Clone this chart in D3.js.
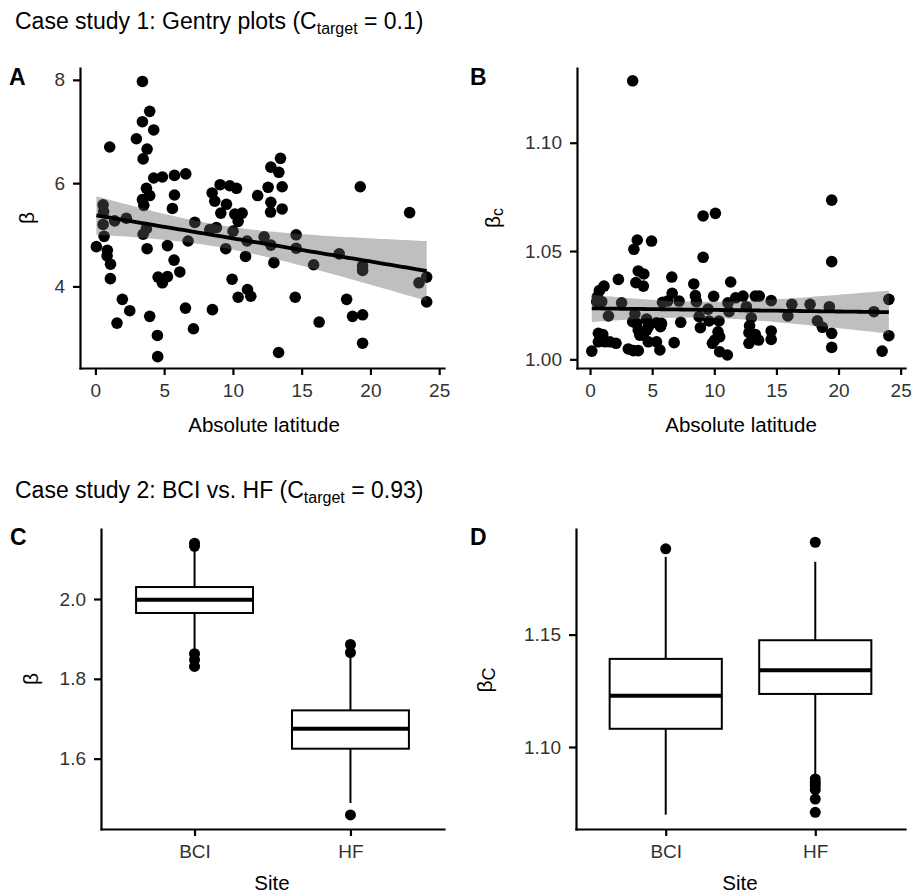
<!DOCTYPE html>
<html>
<head>
<meta charset="utf-8">
<script src="https://cdn.jsdelivr.net/npm/d3@7"></script>
<style>
  body { margin: 0; background: #fff; }
  svg { font-family: "Liberation Sans", Arial, Helvetica, sans-serif; }
</style>
</head>
<body>
<div id="chart"></div>
<script>
// ---- Case study 1, panel A: absolute latitude vs beta ----
const latA = [3.42, 3.95, 3.42, 4.24, 1.04, 2.98, 3.76, 3.47, 4.24, 4.87, 5.75, 6.57, 3.71, 3.95, 3.42, 3.52,
  3.47, 3.71, 3.76, 0.56, 0.60, 0.56, 0.63, 0.07, 0.87, 0.85, 1.10, 1.09, 1.40, 2.25, 1.96, 2.50, 1.57, 3.95,
  4.51, 4.53, 4.56, 4.87, 5.24, 5.24, 5.72, 6.14, 5.60, 5.75, 6.74, 7.23, 6.55, 7.13, 8.51, 8.49, 8.68, 9.07,
  9.77, 10.26, 9.53, 9.12, 8.80, 8.32, 10.01, 10.14, 10.67, 10.38, 9.48, 11.03, 10.92, 9.94, 10.38, 11.06,
  11.30, 11.80, 12.56, 12.76, 13.46, 13.34, 13.58, 12.76, 12.74, 13.58, 12.27, 12.76, 12.98, 13.32, 14.60,
  14.60, 14.53, 15.87, 16.27, 17.73, 18.27, 18.70, 19.26, 19.43, 19.43, 19.43, 19.43, 22.85, 23.53, 24.09, 24.09];
const betaA = [7.97, 7.39, 7.19, 7.03, 6.70, 6.86, 6.66, 6.47, 6.10, 6.12, 6.15, 6.18, 5.90, 5.76, 5.68, 5.57,
  5.01, 5.12, 4.73, 5.58, 5.45, 5.20, 4.97, 4.77, 4.70, 4.59, 4.43, 4.15, 5.27, 5.32, 3.75, 3.53, 3.29, 3.42,
  3.05, 2.64, 4.18, 4.07, 4.19, 4.79, 4.51, 4.28, 5.51, 5.77, 4.88, 5.24, 3.58, 3.18, 3.55, 5.81, 5.65, 5.97,
  5.95, 5.90, 5.59, 5.42, 5.14, 5.10, 5.07, 5.40, 5.42, 5.26, 4.73, 4.88, 4.58, 4.14, 3.79, 3.94,
  3.81, 5.76, 5.92, 6.31, 6.48, 6.21, 5.93, 5.63, 5.44, 5.50, 4.96, 4.80, 4.46, 2.72, 5.00,
  4.74, 3.79, 4.42, 3.31, 4.63, 3.75, 3.42, 5.93, 4.40, 4.31, 3.45, 2.90, 5.43, 4.07, 4.18, 3.70];

// ---- Case study 1, panel B: absolute latitude vs beta_c ----
const latB = [3.43, 19.45, 9.10, 10.09, 3.80, 4.95, 3.53, 9.10, 19.45, 3.88, 4.33, 3.69, 4.29, 2.28, 6.58, 8.35,
  11.32, 1.12, 0.75, 0.59, 0.54, 0.94, 2.54, 6.61, 5.83, 6.24, 7.17, 8.48, 8.56, 9.95, 9.50, 11.10, 11.19, 11.72,
  12.31, 1.48, 3.61, 3.75, 3.43, 3.88, 4.55, 4.69, 5.35, 5.75, 5.67, 4.01, 4.55, 4.29, 4.69, 5.35, 7.30, 8.78,
  8.88, 9.58, 10.38, 10.30, 10.43, 10.03, 9.85, 6.77, 5.62, 0.14, 0.67, 1.02, 0.67, 1.20, 1.60, 2.09, 0.94,
  3.08, 3.48, 3.88, 10.43, 11.05, 13.30, 13.62, 14.58, 12.58, 12.98, 12.84, 12.79, 12.79, 13.30, 13.56, 14.58,
  14.58, 16.24, 15.92, 17.71, 18.30, 18.70, 19.26, 19.45, 19.45, 22.85, 24.05, 24.05, 23.51];
const betaB = [1.1286, 1.0735, 1.0662, 1.0674, 1.0551, 1.0546, 1.0508, 1.0471, 1.0451, 1.0408, 1.0394, 1.0354,
  1.0338, 1.0369, 1.0380, 1.0348, 1.0357, 1.0338, 1.0317, 1.0289, 1.0266, 1.0266, 1.0261, 1.0305, 1.0263,
  1.0269, 1.0269, 1.0294, 1.0266, 1.0291, 1.0232, 1.0261, 1.0220, 1.0284, 1.0292, 1.0200, 1.0209, 1.0166,
  1.0174, 1.0135, 1.0186, 1.0151, 1.0169, 1.0166, 1.0151, 1.0112, 1.0135, 1.0112, 1.0081, 1.0081, 1.0171,
  1.0197, 1.0146, 1.0177, 1.0177, 1.0127, 1.0104, 1.0089, 1.0074, 1.0077, 1.0043, 1.0038, 1.0120, 1.0115,
  1.0081, 1.0081, 1.0081, 1.0074, 1.0092, 1.0048, 1.0040, 1.0040, 1.0035, 1.0020, 1.0292, 1.0292, 1.0271,
  1.0243, 1.0192, 1.0155, 1.0123, 1.0074, 1.0115, 1.0089, 1.0131, 1.0092, 1.0254, 1.0200, 1.0254, 1.0178,
  1.0148, 1.0243, 1.0120, 1.0055, 1.0220, 1.0277, 1.0109, 1.0038];

const latTicks = [0, 5, 10, 15, 20, 25];
const betaTicksA = [4, 6, 8];
const betaTicksB = [1.00, 1.05, 1.10];

// ---- Case study 2: box plot summaries per site ----
const sites = ["BCI", "HF"];
const cLow = [1.869, 1.489];
const cQ1 = [1.965, 1.625];
const cMed = [1.998, 1.675];
const cQ3 = [2.030, 1.721];
const cHigh = [2.124, 1.861];
const cOutliers = [[2.140, 2.132, 1.863, 1.848, 1.831], [1.886, 1.866, 1.459]];
const cTicks = [1.6, 1.8, 2.0];

const dLow = [1.0699, 1.0869];
const dQ1 = [1.1081, 1.1236];
const dMed = [1.1228, 1.1341];
const dQ3 = [1.1392, 1.1475];
const dHigh = [1.1846, 1.1824];
const dOutliers = [[1.1882], [1.1911, 1.0858, 1.0842, 1.0828, 1.0810, 1.0768, 1.0709]];
const dTicks = [1.10, 1.15];

const svg = d3.select("#chart").append("svg")
    .attr("width", 914)
    .attr("height", 894);

// section titles with a subscript "target"
function sectionTitle(y, before, after) {
    const t = svg.append("text").attr("x", 15).attr("y", y)
        .attr("font-size", 23).attr("fill", "#000");
    t.append("tspan").text(before);
    t.append("tspan").attr("font-size", 16).attr("dy", 5).text("target");
    t.append("tspan").attr("dy", -5).text(after);
}
sectionTitle(29, "Case study 1: Gentry plots (C", " = 0.1)");
sectionTitle(498, "Case study 2: BCI vs. HF (C", " = 0.93)");

function panelLetter(x, y, s) {
    svg.append("text").attr("x", x).attr("y", y)
        .attr("font-size", 23).attr("font-weight", "bold").text(s);
}

function styleAxis(sel) {
    sel.selectAll(".domain").attr("stroke", "#000").attr("stroke-width", 2.2)
        .attr("stroke-linecap", "square");
    sel.selectAll(".tick line").attr("stroke", "#000").attr("stroke-width", 2.2);
    sel.selectAll(".tick text").attr("font-size", 19).attr("fill", "#333")
        .attr("font-family", "Liberation Sans, Arial, sans-serif");
}

function drawAxes(x, y, xAxis, yAxis) {
    const [x0] = x.range();
    const [y0] = y.range();
    svg.append("g").attr("transform", `translate(0,${y0})`)
        .call(xAxis.tickSize(7).tickSizeOuter(0).tickPadding(9))
        .call(styleAxis);
    svg.append("g").attr("transform", `translate(${x0},0)`)
        .call(yAxis.tickSize(7).tickSizeOuter(0).tickPadding(8))
        .call(styleAxis);
}

function yTitle(cx, cy, sub) {
    const t = svg.append("text")
        .attr("transform", `translate(${cx},${cy}) rotate(-90)`)
        .attr("text-anchor", "middle")
        .attr("dominant-baseline", "central")
        .attr("font-size", 21).attr("fill", "#000");
    t.append("tspan").text("β");
    if (sub) t.append("tspan").attr("font-size", sub === "C" ? 18 : 16).attr("dy", 5).text(sub);
}

function xTitle(cx, y, s) {
    svg.append("text").attr("x", cx).attr("y", y)
        .attr("text-anchor", "middle").attr("font-size", 20.5).text(s);
}

// linear fit with 95% confidence band (geom_smooth(method = "lm"))
function lmFit(xs, ys) {
    const n = xs.length;
    const mx = d3.mean(xs), my = d3.mean(ys);
    let sxx = 0, sxy = 0;
    xs.forEach((v, i) => { sxx += (v - mx) ** 2; sxy += (v - mx) * (ys[i] - my); });
    const b = sxy / sxx, a = my - b * mx;
    let sse = 0;
    xs.forEach((v, i) => { sse += (ys[i] - a - b * v) ** 2; });
    const s = Math.sqrt(sse / (n - 2));
    const tq = 1.985;
    const [lo, hi] = d3.extent(xs);
    return d3.range(81).map(k => {
        const xv = lo + (hi - lo) * k / 80;
        const fit = a + b * xv;
        const se = s * Math.sqrt(1 / n + (xv - mx) ** 2 / sxx);
        return { x: xv, fit, lo: fit - tq * se, hi: fit + tq * se };
    });
}

function scatterPanel(xs, ys, x, y) {
    const g = svg.append("g");
    g.selectAll("circle").data(xs).join("circle")
        .attr("cx", d => x(d))
        .attr("cy", (d, i) => y(ys[i]))
        .attr("r", 5.8)
        .attr("fill", "#000");
    const fit = lmFit(xs, ys);
    g.append("path").datum(fit)
        .attr("d", d3.area().x(d => x(d.x)).y0(d => y(d.lo)).y1(d => y(d.hi)))
        .attr("fill", "#606060").attr("opacity", 0.4);
    g.append("path").datum(fit)
        .attr("d", d3.line().x(d => x(d.x)).y(d => y(d.fit)))
        .attr("fill", "none").attr("stroke", "#000").attr("stroke-width", 3.8);
}

function boxPanel(x, y, low, q1, med, q3, high, outliers) {
    const w = x.step() * 0.75;
    const g = svg.append("g");
    sites.forEach((s, i) => {
        const cx = x(s);
        g.append("line").attr("x1", cx).attr("x2", cx)
            .attr("y1", y(q3[i])).attr("y2", y(high[i]))
            .attr("stroke", "#000").attr("stroke-width", 2);
        g.append("line").attr("x1", cx).attr("x2", cx)
            .attr("y1", y(q1[i])).attr("y2", y(low[i]))
            .attr("stroke", "#000").attr("stroke-width", 2);
        g.append("rect").attr("x", cx - w / 2).attr("width", w)
            .attr("y", y(q3[i])).attr("height", y(q1[i]) - y(q3[i]))
            .attr("fill", "#fff").attr("stroke", "#000").attr("stroke-width", 2);
        g.append("line").attr("x1", cx - w / 2).attr("x2", cx + w / 2)
            .attr("y1", y(med[i])).attr("y2", y(med[i]))
            .attr("stroke", "#000").attr("stroke-width", 4);
        g.selectAll(null).data(outliers[i]).join("circle")
            .attr("cx", cx).attr("cy", d => y(d)).attr("r", 5.5).attr("fill", "#000");
    });
}

// Panel A
const xA = d3.scaleLinear().domain([-1.12, 25.35]).range([80, 444]);
const yA = d3.scaleLinear().domain([2.42, 8.23]).range([368, 68]);
scatterPanel(latA, betaA, xA, yA);
drawAxes(xA, yA, d3.axisBottom(xA).tickValues(latTicks),
    d3.axisLeft(yA).tickValues(betaTicksA).tickFormat(d3.format("d")));
panelLetter(9, 85, "A");
yTitle(26, 218);
xTitle(264, 432, "Absolute latitude");

// Panel B
const xB = d3.scaleLinear().domain([-1.05, 25.35]).range([577, 905]);
const yB = d3.scaleLinear().domain([0.996, 1.1345]).range([368, 68]);
scatterPanel(latB, betaB, xB, yB);
drawAxes(xB, yB, d3.axisBottom(xB).tickValues(latTicks),
    d3.axisLeft(yB).tickValues(betaTicksB).tickFormat(d3.format(".2f")));
panelLetter(470, 85, "B");
yTitle(492, 218, "c");
xTitle(741, 432, "Absolute latitude");

// Panel C
const xC = d3.scalePoint().domain(sites).range([101, 444]).padding(0.6);
const yC = d3.scaleLinear().domain([1.4238, 2.1754]).range([829, 529]);
boxPanel(xC, yC, cLow, cQ1, cMed, cQ3, cHigh, cOutliers);
drawAxes(xC, yC, d3.axisBottom(xC),
    d3.axisLeft(yC).tickValues(cTicks).tickFormat(d3.format(".1f")));
panelLetter(10, 545, "C");
yTitle(30, 679);
xTitle(272, 890, "Site");

// Panel D
const xD = d3.scalePoint().domain(sites).range([576, 905]).padding(0.6);
const yD = d3.scaleLinear().domain([1.0635, 1.197]).range([829, 529]);
boxPanel(xD, yD, dLow, dQ1, dMed, dQ3, dHigh, dOutliers);
drawAxes(xD, yD, d3.axisBottom(xD),
    d3.axisLeft(yD).tickValues(dTicks).tickFormat(d3.format(".2f")));
panelLetter(470, 545, "D");
yTitle(484, 680, "C");
xTitle(740, 890, "Site");
</script>
</body>
</html>
